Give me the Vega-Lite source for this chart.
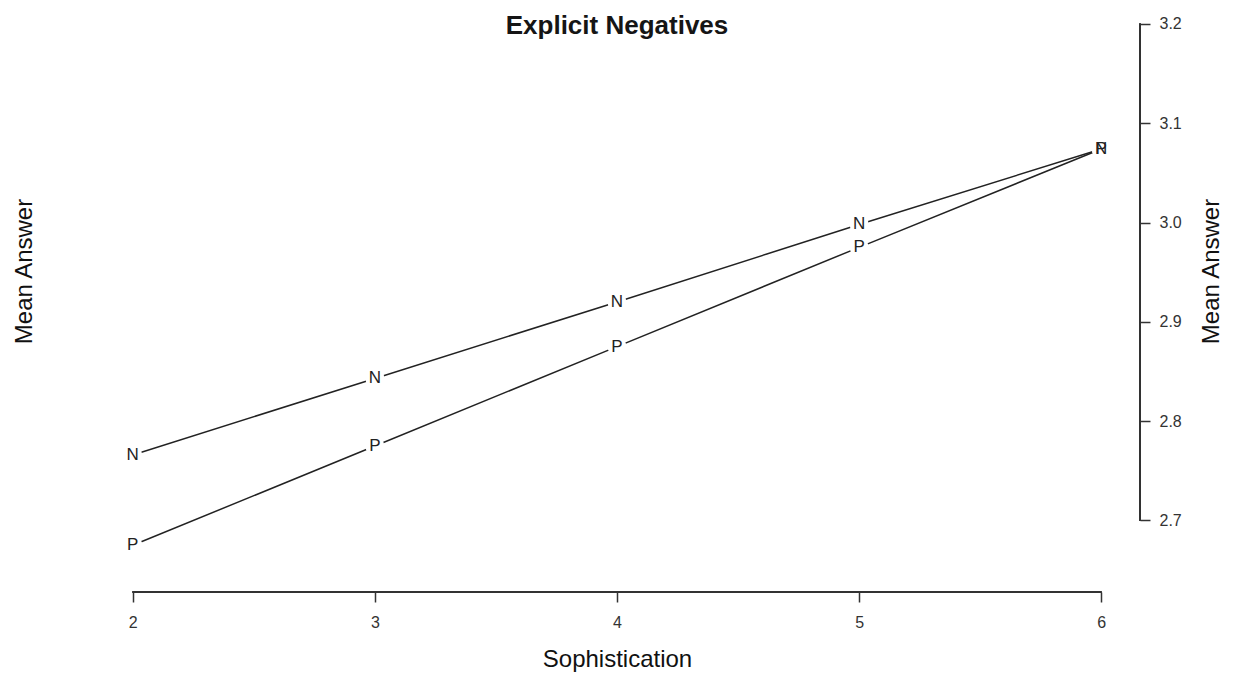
{
  "$schema": "https://vega.github.io/schema/vega-lite/v6.json",
  "width": 1046,
  "height": 590,
  "autosize": "none",
  "padding": {"left": 94, "top": 2, "right": 93, "bottom": 81},
  "background": "white",
  "config": {
    "view": {"stroke": null},
    "font": "Liberation Sans",
    "axis": {"grid": false}
  },
  "title": {
    "text": "Explicit Negatives",
    "font": "Liberation Sans",
    "fontSize": 26,
    "fontWeight": "bold",
    "color": "#151515",
    "anchor": "middle",
    "baseline": "alphabetic",
    "offset": -30,
    "dy": 28
  },
  "data": {
    "values": [
      {"soph": 2, "mean": 2.766, "series": "N"},
      {"soph": 3, "mean": 2.843, "series": "N"},
      {"soph": 4, "mean": 2.920, "series": "N"},
      {"soph": 5, "mean": 2.998, "series": "N"},
      {"soph": 6, "mean": 3.074, "series": "N"},
      {"soph": 2, "mean": 2.675, "series": "P"},
      {"soph": 3, "mean": 2.775, "series": "P"},
      {"soph": 4, "mean": 2.875, "series": "P"},
      {"soph": 5, "mean": 2.975, "series": "P"},
      {"soph": 6, "mean": 3.074, "series": "P"}
    ]
  },
  "layer": [
    {
      "mark": {"type": "rule", "color": "#333333", "strokeWidth": 1.5},
      "encoding": {
        "x": {"datum": 2, "type": "quantitative", "scale": {"domain": [1.84, 6.16], "nice": false, "zero": false}, "axis": null},
        "x2": {"datum": 6},
        "y": {"datum": 2.628, "type": "quantitative", "scale": {"domain": [2.628, 3.222], "nice": false, "zero": false}, "axis": null}
      }
    },
    {
      "mark": {"type": "rule", "color": "#333333", "strokeWidth": 1.5},
      "encoding": {
        "x": {"datum": 6.16, "type": "quantitative", "axis": null},
        "y": {"datum": 2.7, "type": "quantitative", "axis": null},
        "y2": {"datum": 3.2}
      }
    },
    {
      "mark": {"type": "line", "color": "#222222", "strokeWidth": 1.5},
      "encoding": {
        "x": {
          "field": "soph", "type": "quantitative",
          "scale": {"domain": [1.84, 6.16], "nice": false, "zero": false},
          "axis": {
            "title": "Sophistication",
            "values": [2, 3, 4, 5, 6],
            "domain": false,
            "tickSize": 10,
            "tickWidth": 1.5,
            "tickColor": "#333333",
            "labelFontSize": 16,
            "labelColor": "#333333",
            "labelPadding": 12,
            "titleFontSize": 24,
            "titleFontWeight": "normal",
            "titleColor": "#111111",
            "titlePadding": 17
          }
        },
        "y": {
          "field": "mean", "type": "quantitative",
          "scale": {"domain": [2.628, 3.222], "nice": false, "zero": false},
          "axis": {
            "orient": "left",
            "title": "Mean Answer",
            "domain": false,
            "ticks": false,
            "labels": false,
            "titleFontSize": 24,
            "titleFontWeight": "normal",
            "titleColor": "#111111",
            "titleAngle": 270,
            "titleAlign": "center",
            "titleBaseline": "middle",
            "titleX": -70,
            "titleY": 269
          }
        },
        "detail": {"field": "series"},
        "order": {"field": "soph"}
      }
    },
    {
      "mark": {"type": "point", "shape": "circle", "filled": true, "color": "white", "opacity": 1, "size": 360},
      "encoding": {
        "x": {"field": "soph", "type": "quantitative", "axis": null},
        "y": {"field": "mean", "type": "quantitative", "axis": null}
      }
    },
    {
      "mark": {"type": "text", "fontSize": 17, "color": "#222222", "font": "Liberation Sans", "baseline": "middle", "align": "center"},
      "encoding": {
        "x": {"field": "soph", "type": "quantitative", "axis": null},
        "y": {
          "field": "mean", "type": "quantitative",
          "axis": {
            "orient": "right",
            "title": "Mean Answer",
            "values": [2.7, 2.8, 2.9, 3.0, 3.1, 3.2],
            "format": ".1f",
            "domain": false,
            "tickSize": 10,
            "tickWidth": 1.5,
            "tickColor": "#333333",
            "labelFontSize": 16,
            "labelColor": "#333333",
            "labelPadding": 9,
            "titleFontSize": 24,
            "titleFontWeight": "normal",
            "titleColor": "#111111",
            "titleAngle": 270,
            "titleAlign": "center",
            "titleBaseline": "middle",
            "titleX": 71,
            "titleY": 269
          }
        },
        "text": {"field": "series"}
      }
    }
  ],
  "resolve": {"axis": {"x": "independent", "y": "independent"}}
}
